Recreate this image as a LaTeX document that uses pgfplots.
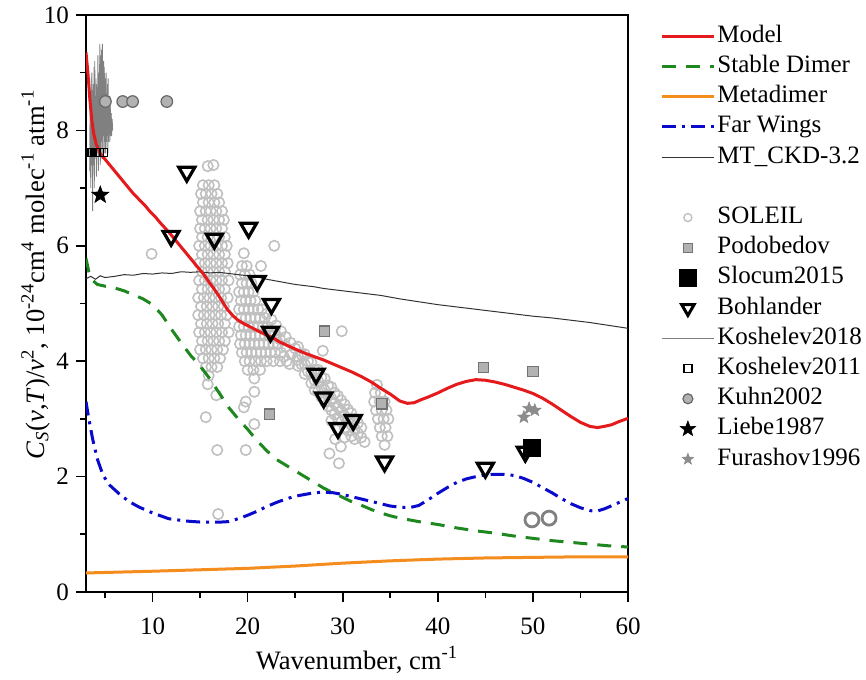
\documentclass[border=0pt]{standalone}
\usepackage{fontspec}
\setmainfont{Liberation Serif}
\usepackage{pgfplots}
\pgfplotsset{compat=1.18}

\definecolor{modelred}{RGB}{228,26,28}
\definecolor{dimergreen}{RGB}{30,135,30}
\definecolor{metaorange}{RGB}{245,140,30}
\definecolor{wingblue}{RGB}{10,10,205}
\definecolor{soleilgray}{RGB}{192,192,192}

% filled five-pointed star
\pgfdeclareplotmark{fstar}{%
  \pgfpathmoveto{\pgfpointpolar{90}{\pgfplotmarksize}}%
  \pgfpathlineto{\pgfpointpolar{126}{0.42\pgfplotmarksize}}%
  \pgfpathlineto{\pgfpointpolar{162}{\pgfplotmarksize}}%
  \pgfpathlineto{\pgfpointpolar{198}{0.42\pgfplotmarksize}}%
  \pgfpathlineto{\pgfpointpolar{234}{\pgfplotmarksize}}%
  \pgfpathlineto{\pgfpointpolar{270}{0.42\pgfplotmarksize}}%
  \pgfpathlineto{\pgfpointpolar{306}{\pgfplotmarksize}}%
  \pgfpathlineto{\pgfpointpolar{342}{0.42\pgfplotmarksize}}%
  \pgfpathlineto{\pgfpointpolar{18}{\pgfplotmarksize}}%
  \pgfpathlineto{\pgfpointpolar{54}{0.42\pgfplotmarksize}}%
  \pgfpathclose\pgfusepathqfillstroke}

\pgfplotstableread{
x y
15.3 7.05
15.9 7.05
16.5 7.05
15.1 6.90
15.6 6.90
16.2 6.90
16.8 6.90
15.3 6.75
15.9 6.75
16.5 6.75
17.0 6.75
15.0 6.60
15.6 6.60
16.1 6.60
16.7 6.60
17.3 6.60
15.2 6.45
15.8 6.45
16.4 6.45
17.0 6.45
17.5 6.45
15.0 6.30
15.5 6.30
16.1 6.30
16.7 6.30
17.3 6.30
15.2 6.15
15.8 6.15
16.4 6.15
17.0 6.15
17.6 6.15
14.9 6.00
15.5 6.00
16.1 6.00
16.7 6.00
17.3 6.00
17.8 6.00
15.2 5.85
15.8 5.85
16.4 5.85
17.0 5.85
17.6 5.85
14.9 5.70
15.5 5.70
16.1 5.70
16.7 5.70
17.3 5.70
17.9 5.70
15.2 5.55
15.8 5.55
16.4 5.55
17.0 5.55
17.6 5.55
14.9 5.40
15.5 5.40
16.1 5.40
16.7 5.40
17.3 5.40
18.0 5.40
15.2 5.25
15.8 5.25
16.4 5.25
17.0 5.25
17.6 5.25
14.8 5.10
15.4 5.10
16.0 5.10
16.6 5.10
17.2 5.10
17.9 5.10
15.1 4.95
15.7 4.95
16.3 4.95
16.9 4.95
17.5 4.95
14.8 4.80
15.4 4.80
16.0 4.80
16.6 4.80
17.2 4.80
17.8 4.80
15.1 4.65
15.7 4.65
16.3 4.65
16.9 4.65
17.6 4.65
14.9 4.50
15.5 4.50
16.1 4.50
16.7 4.50
17.3 4.50
18.0 4.50
15.2 4.35
15.8 4.35
16.4 4.35
17.0 4.35
17.6 4.35
15.0 4.20
15.6 4.20
16.2 4.20
16.8 4.20
17.4 4.20
15.3 4.05
15.9 4.05
16.5 4.05
17.1 4.05
15.6 3.90
16.2 3.90
16.8 3.90
15.9 3.75
15.8 7.38
16.4 7.40
9.9 5.86
15.8 3.60
16.7 3.41
15.6 3.03
16.8 2.46
16.9 1.35
19.4 5.65
19.9 5.65
19.2 5.50
19.7 5.50
20.2 5.50
19.4 5.35
19.9 5.35
20.4 5.35
19.1 5.20
19.6 5.20
20.1 5.20
20.6 5.20
19.3 5.05
19.8 5.05
20.3 5.05
20.8 5.05
19.1 4.90
19.6 4.90
20.1 4.90
20.6 4.90
21.1 4.90
19.3 4.75
19.8 4.75
20.3 4.75
20.8 4.75
21.3 4.75
21.8 4.75
19.1 4.60
19.6 4.60
20.1 4.60
20.6 4.60
21.1 4.60
21.6 4.60
22.1 4.60
19.3 4.45
19.8 4.45
20.3 4.45
20.8 4.45
21.3 4.45
21.8 4.45
22.3 4.45
22.8 4.45
19.2 4.30
19.7 4.30
20.2 4.30
20.7 4.30
21.2 4.30
21.7 4.30
22.2 4.30
22.7 4.30
23.2 4.30
19.4 4.15
19.9 4.15
20.4 4.15
20.9 4.15
21.4 4.15
21.9 4.15
22.4 4.15
22.9 4.15
23.5 4.15
19.7 4.00
20.2 4.00
20.8 4.00
21.4 4.00
22.0 4.00
22.7 4.00
23.4 4.00
24.1 4.00
20.0 3.85
20.6 3.85
21.3 3.85
19.6 5.87
21.4 5.65
22.8 6.00
20.7 3.70
20.7 3.47
19.8 3.30
19.6 3.20
20.7 2.91
19.8 2.46
21.5 4.90
22.0 4.82
22.5 4.72
23.0 4.62
23.5 4.52
24.0 4.42
24.5 4.32
25.0 4.22
22.9 4.48
23.4 4.38
24.0 4.25
24.6 4.12
25.2 4.02
23.8 4.08
24.4 3.95
25.3 4.25
25.3 4.08
25.3 3.92
25.65 4.12
25.65 3.95
26.0 4.12
26.0 3.95
26.0 3.78
26.35 4.00
26.35 3.82
26.7 3.98
26.7 3.80
26.7 3.62
27.05 3.85
27.05 3.67
27.05 3.50
27.4 3.85
27.4 3.66
27.4 3.47
27.75 3.72
27.75 3.55
27.75 3.38
28.1 3.70
28.1 3.50
28.1 3.30
28.45 3.58
28.45 3.40
28.45 3.22
28.8 3.55
28.8 3.35
28.8 3.15
28.8 2.97
29.15 3.45
29.15 3.27
29.15 3.08
29.5 3.40
29.5 3.20
29.5 3.00
29.5 2.82
29.85 3.32
29.85 3.13
29.85 2.95
30.2 3.25
30.2 3.05
30.2 2.85
30.2 2.68
30.55 3.16
30.55 2.98
30.55 2.80
30.9 3.10
30.9 2.90
30.9 2.70
31.25 3.00
31.25 2.83
31.25 2.65
31.6 2.93
31.6 2.75
31.95 2.85
31.95 2.68
32.3 2.60
29.9 4.52
27.9 4.18
28.6 2.40
29.6 2.23
29.8 2.52
29.2 2.65
33.6 3.59
33.4 3.45
34.0 3.45
33.3 3.30
33.9 3.30
34.4 3.30
33.5 3.15
34.1 3.15
34.6 3.15
33.7 3.00
34.3 3.00
34.8 3.00
33.9 2.85
34.5 2.85
34.1 2.70
34.7 2.70
34.4 2.55
}\soleil

\begin{document}
\begin{tikzpicture}
\begin{axis}[
  scale only axis, width=271pt, height=288.5pt,
  xmin=3, xmax=60, ymin=0, ymax=10,
  clip marker paths=true,
  xtick={10,20,...,60}, minor xtick={5,15,...,55},
  ytick={0,2,...,10}, minor ytick={1,3,...,9},
  xtick pos=bottom, ytick pos=left,
  tick align=outside, major tick length=5pt, minor tick length=3pt,
  tick style={black, line width=0.8pt},
  axis line style={line width=0.9pt},
  /pgf/number format/assume math mode=true,
  tick label style={font=\fontsize{12.5}{14}\selectfont},
  xticklabel style={yshift=-4.5pt},
  label style={font=\fontsize{13.3}{15}\selectfont},
  xlabel={Wavenumber, cm\textsuperscript{-1}},
  xlabel style={yshift=1pt},
  ylabel={\textit{C}\textsubscript{\textit{S}}(\textit{ν},\textit{T})/\textit{ν}\textsuperscript{2}, 10\textsuperscript{-24}cm\textsuperscript{4} molec\textsuperscript{-1} atm\textsuperscript{-1}},
  ylabel style={at={(axis description cs:-0.093,0.55)}, anchor=center},
  legend style={draw=none, fill=none, at={(1,1)}, anchor=north west,
    xshift=13pt, yshift=-2.5pt, font=\fontsize{12.5}{14}\selectfont, row sep=3.1pt, column sep=1pt,
    nodes={inner sep=0pt, text height=9pt, text depth=3pt}},
  legend cell align=left,
  legend image code/.code={\draw[mark repeat=2,mark phase=2,#1] plot coordinates {(0pt,0pt) (13pt,0pt) (26pt,0pt)};},
]

% Koshelev2018 (noisy spectrum)
\addplot[forget plot, gray, line width=0.45pt] coordinates {
(3.40,7.3) (3.45,8.6) (3.50,7.0) (3.55,8.9) (3.60,7.6) (3.65,8.4) (3.70,6.6)
(3.75,8.8) (3.80,7.4) (3.85,9.1) (3.90,7.5) (3.95,8.5) (4.00,7.7) (4.05,8.9)
(4.10,7.2) (4.15,8.3) (4.20,7.9) (4.25,9.3) (4.30,7.3) (4.35,8.6) (4.40,7.6)
(4.45,9.5) (4.50,7.4) (4.55,8.2) (4.60,7.8) (4.65,9.4) (4.70,7.5) (4.75,8.7)
(4.80,7.9) (4.85,9.2) (4.90,7.6) (4.95,8.3) (5.00,7.8) (5.05,8.9) (5.10,7.7)
(5.15,8.4) (5.20,7.9) (5.25,8.8) (5.30,7.6) (5.35,8.3) (5.40,8.0) (5.45,8.6)
(5.50,7.8) (5.55,8.4) (5.60,8.0) (5.65,8.3) (5.70,7.9) (5.75,8.2) (5.80,8.0)};
\addplot[forget plot, gray, line width=0.45pt] coordinates {
(3.42,8.1) (3.47,7.2) (3.52,8.3) (3.57,7.4) (3.62,9.0) (3.67,7.1) (3.72,8.7)
(3.77,7.6) (3.82,8.4) (3.87,7.0) (3.92,9.2) (3.97,7.8) (4.02,8.6) (4.07,7.5)
(4.12,8.8) (4.17,7.6) (4.22,8.5) (4.27,7.8) (4.32,9.0) (4.37,7.7) (4.42,8.4)
(4.47,7.9) (4.52,9.3) (4.57,7.6) (4.62,8.5) (4.67,7.9) (4.72,9.5) (4.77,7.7)
(4.82,8.6) (4.87,8.0) (4.92,9.1) (4.97,7.9) (5.02,8.7) (5.07,7.6) (5.12,9.0)
(5.17,7.8) (5.22,8.5) (5.27,7.9) (5.32,8.9) (5.37,7.8) (5.42,8.4) (5.47,8.0)
(5.52,8.6) (5.57,7.9) (5.62,8.3)};

% SOLEIL
\addplot[forget plot, only marks, mark=o, mark size=2.6pt,
  mark options={draw=soleilgray, line width=0.8pt}] table {\soleil};
\addplot[forget plot, only marks, mark=o, mark size=3.5pt,
  mark options={draw=gray, line width=1.4pt}] coordinates {(49.9,1.25) (51.7,1.28)};

% MT_CKD-3.2
\addplot[forget plot, black!80, line width=0.5pt] coordinates {
(3,5.43) (3.5,5.47) (4,5.42) (4.5,5.48) (5,5.45) (6,5.47) (7,5.50) (8,5.49)
(9,5.52) (10,5.51) (11,5.53) (12,5.52) (13,5.55) (14,5.54) (15,5.55) (16,5.53)
(17,5.54) (18,5.52) (19,5.50) (20,5.48) (21,5.46) (22,5.42) (23,5.39) (24,5.36)
(25,5.33) (26,5.31) (27,5.29) (28,5.26) (29,5.24) (30,5.22) (32,5.18) (34,5.14)
(36,5.08) (38,5.03) (40,4.98) (42,4.94) (44,4.90) (46,4.86) (48,4.82) (50,4.78)
(52,4.75) (54,4.71) (56,4.67) (58,4.62) (60,4.57)};

% Stable Dimer
\addplot[forget plot, dimergreen, line width=1.5pt, dash pattern=on 7pt off 5pt] coordinates {
(3,5.78) (3.3,5.55) (3.7,5.40) (4.2,5.33) (5,5.30) (6,5.27) (7,5.22) (8,5.15)
(9,5.08) (10,4.98) (11,4.80) (12,4.55) (13,4.32) (14,4.10) (15,3.92) (16,3.70)
(17,3.45) (18,3.20) (19,3.00) (20,2.82) (21,2.62) (22,2.45) (23,2.30) (24,2.20)
(25,2.10) (26,2.00) (27,1.90) (28,1.80) (29,1.72) (30,1.64) (31,1.56) (32,1.50)
(33,1.43) (34,1.37) (35,1.32) (36,1.28) (37,1.25) (38,1.22) (40,1.17) (42,1.11)
(44,1.06) (46,1.02) (48,0.97) (50,0.93) (52,0.89) (54,0.86) (56,0.83) (58,0.80)
(60,0.78)};

% Metadimer
\addplot[forget plot, metaorange, line width=1.5pt] coordinates {
(3,0.33) (10,0.36) (20,0.41) (25,0.45) (30,0.50) (35,0.54) (40,0.57) (45,0.59)
(50,0.60) (55,0.61) (60,0.61)};

% Far Wings
\addplot[forget plot, wingblue, line width=1.5pt, dash pattern=on 7pt off 3pt on 1.5pt off 3pt] coordinates {
(3,3.30) (3.3,3.00) (3.7,2.65) (4.2,2.30) (4.8,2.02) (5.5,1.85) (6.5,1.70) (7.5,1.57)
(8.6,1.47) (10,1.37) (11.7,1.27) (13.5,1.23) (15.2,1.21) (17,1.21) (18,1.22) (19,1.27)
(20,1.33) (21,1.40) (22,1.48) (23,1.55) (24,1.61) (25,1.66) (26,1.69) (27,1.72)
(28,1.73) (29,1.72) (30,1.69) (31,1.65) (32,1.61) (33,1.57) (34,1.53) (35,1.49)
(36,1.47) (37,1.46) (38,1.50) (39,1.60) (40,1.71) (41,1.81) (42,1.90) (43,1.96)
(44,2.00) (45,2.03) (46,2.04) (47,2.04) (48,2.02) (49,1.97) (50,1.90) (51,1.81)
(52,1.72) (53,1.62) (54,1.53) (55,1.46) (56,1.41) (56.7,1.40) (57.5,1.44) (58.5,1.51)
(59.3,1.57) (60,1.62)};

% Model
\addplot[forget plot, modelred, line width=1.5pt] coordinates {
(3,9.35) (3.2,9.0) (3.4,8.55) (3.6,8.2) (3.8,7.95) (4.1,7.75) (4.5,7.6) (5,7.5)
(5.5,7.4) (6,7.3) (6.5,7.2) (7,7.1) (7.5,7.0) (8,6.9) (8.6,6.8) (9.2,6.7)
(9.7,6.6) (10.3,6.5) (10.8,6.4) (11.3,6.31) (11.8,6.22) (12.3,6.12) (12.8,6.02)
(13.3,5.92) (13.8,5.82) (14.3,5.72) (14.9,5.6) (15.4,5.5) (15.9,5.38) (16.4,5.27)
(16.9,5.15) (17.4,5.02) (17.9,4.89) (18.5,4.78) (19,4.71) (19.6,4.65) (20.2,4.6)
(20.8,4.55) (21.4,4.5) (22,4.45) (22.6,4.41) (23.4,4.33) (24.2,4.27) (25,4.21)
(26,4.14) (27,4.08) (28,4.02) (29,3.95) (30,3.88) (31,3.81) (32,3.73) (33,3.64)
(34,3.53) (35,3.43) (36,3.31) (36.8,3.27) (37.5,3.28) (38.2,3.33) (39,3.38)
(40,3.45) (41,3.53) (42,3.6) (43,3.65) (44,3.68) (45,3.67) (46,3.64) (47,3.6)
(48,3.55) (49,3.5) (50,3.44) (51,3.36) (52,3.26) (53,3.15) (54,3.04) (55,2.94)
(56,2.87) (56.8,2.85) (57.5,2.87) (58.3,2.9) (59,2.95) (60,3.01)};

% Podobedov
\addplot[forget plot, only marks, mark=square*, mark size=2.6pt,
  mark options={fill=black!30, draw=black!55, line width=0.6pt}] coordinates {
(22.3,3.08) (28.1,4.52) (34.1,3.26) (44.8,3.89) (50.0,3.82)};
% Koshelev2011
\addplot[forget plot, only marks, mark=square, mark size=1.9pt,
  mark options={draw=black, line width=0.6pt}] coordinates {
(3.1,7.62) (3.2,7.62) (3.3,7.62) (3.4,7.62) (3.5,7.62) (3.7,7.62) (4.0,7.62) (4.4,7.62) (4.9,7.62)};
% Kuhn2002
\addplot[forget plot, only marks, mark=*, mark size=2.9pt,
  mark options={fill=black!30, draw=black!60, line width=0.6pt}] coordinates {
(5.04,8.5) (6.86,8.5) (7.9,8.5) (11.5,8.5)};
% Liebe1987
\addplot[forget plot, only marks, mark=fstar, mark size=4.5pt,
  mark options={fill=black, draw=black, line width=0.3pt}] coordinates {(4.5,6.88)};
% Furashov1996
\addplot[forget plot, only marks, mark=fstar, mark size=3.3pt,
  mark options={fill=black!45, draw=black!45, line width=0.3pt}] coordinates {
(49.05,3.03) (49.6,3.18) (50.2,3.15)};
% Slocum2015
\addplot[forget plot, only marks, mark=square*, mark size=4.3pt,
  mark options={fill=black, draw=black}] coordinates {(49.9,2.5)};
% Bohlander
\addplot[forget plot, only marks, mark=triangle, mark size=4.6pt,
  mark options={draw=black, line width=1.6pt, rotate=180}] coordinates {
(13.6,7.28) (11.95,6.17) (16.5,6.12) (20.1,6.31) (21.0,5.39) (22.5,4.99) (22.4,4.51)
(27.2,3.78) (28.0,3.37) (29.5,2.84) (31.1,2.98) (34.4,2.26) (45.0,2.15) (49.2,2.43)};

% legend
\addlegendimage{modelred, line width=1.5pt}
\addlegendentry{Model}
\addlegendimage{dimergreen, line width=1.5pt, dash pattern=on 7pt off 5pt}
\addlegendentry{Stable Dimer}
\addlegendimage{metaorange, line width=1.5pt}
\addlegendentry{Metadimer}
\addlegendimage{wingblue, line width=1.5pt, dash pattern=on 7pt off 3pt on 1.5pt off 3pt}
\addlegendentry{Far Wings}
\addlegendimage{black!80, line width=0.5pt}
\addlegendentry{MT\_CKD-3.2}
\addlegendimage{empty legend}
\addlegendentry{}
\addlegendimage{only marks, mark=o, mark size=2pt, mark options={draw=soleilgray, line width=0.7pt}}
\addlegendentry{SOLEIL}
\addlegendimage{only marks, mark=square*, mark size=2.2pt, mark options={fill=black!30, draw=black!55, line width=0.6pt}}
\addlegendentry{Podobedov}
\addlegendimage{only marks, mark=square*, mark size=4.2pt, mark options={fill=black, draw=black}}
\addlegendentry{Slocum2015}
\addlegendimage{only marks, mark=triangle, mark size=3.6pt, mark options={draw=black, line width=1.5pt, rotate=180}}
\addlegendentry{Bohlander}
\addlegendimage{gray, line width=0.4pt}
\addlegendentry{Koshelev2018}
\addlegendimage{only marks, mark=square, mark size=2pt, mark options={draw=black, line width=0.6pt}}
\addlegendentry{Koshelev2011}
\addlegendimage{only marks, mark=*, mark size=2.5pt, mark options={fill=black!30, draw=black!60, line width=0.6pt}}
\addlegendentry{Kuhn2002}
\addlegendimage{only marks, mark=fstar, mark size=4pt, mark options={fill=black, draw=black, line width=0.3pt}}
\addlegendentry{Liebe1987}
\addlegendimage{only marks, mark=fstar, mark size=3pt, mark options={fill=black!45, draw=black!45, line width=0.3pt}}
\addlegendentry{Furashov1996}
\end{axis}
\pgfresetboundingbox
\path (current axis.south west) ++(-43pt,-43.5pt) rectangle ++(433pt,339.5pt);
\end{tikzpicture}
\end{document}
